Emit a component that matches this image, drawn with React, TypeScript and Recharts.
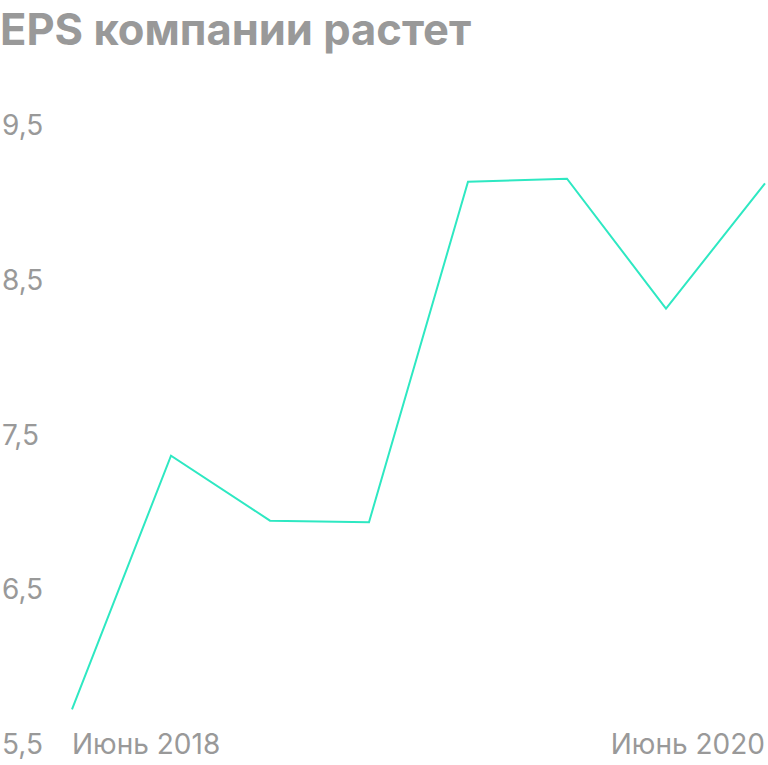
import { LineChart, Line, XAxis, YAxis } from 'recharts'

const months = [
  'Июнь 2018',
  'Сент. 2018',
  'Дек. 2018',
  'Март 2019',
  'Июнь 2019',
  'Сент. 2019',
  'Дек. 2019',
  'Июнь 2020',
]
const eps = [5.72, 7.36, 6.94, 6.93, 9.13, 9.15, 8.31, 9.12]
const yTicks = [5.5, 6.5, 7.5, 8.5, 9.5]
const xTicks = [months[0], months[months.length - 1]]

const data = months.map((m, i) => ({ month: m, eps: eps[i] }))

const GRAY = '#999999'
const FONT = 'Inter, Roboto, sans-serif'

// подписи по оси Y прижаты к левому краю
function YTick(props: any) {
  const { y, payload } = props
  return (
    <text x={2} y={y + 10.5} fill={GRAY} fontSize={28} fontFamily={FONT} textAnchor="start">
      {String(payload.value).replace('.', ',')}
    </text>
  )
}

// первая подпись от точки вправо, последняя — влево
function XTick(props: any) {
  const { x, y, payload } = props
  const anchor = payload.value === xTicks[0] ? 'start' : 'end'
  return (
    <text x={x} y={y + 10.5} fill={GRAY} fontSize={28} fontFamily={FONT} textAnchor={anchor}>
      {payload.value}
    </text>
  )
}

export default function App() {
  return (
    <div style={{ position: 'absolute', left: 0, top: 0, width: 768, height: 765, background: '#fff' }}>
      <div
        style={{
          position: 'absolute',
          left: 0,
          top: 8,
          fontFamily: FONT,
          fontWeight: 700,
          fontSize: 43.5,
          lineHeight: 1,
          color: GRAY,
          whiteSpace: 'nowrap',
        }}
      >
        EPS компании растет
      </div>
      <LineChart width={768} height={765} data={data} margin={{ top: 124.5, right: 3, bottom: 0, left: 0 }}>
        <XAxis
          dataKey="month"
          ticks={xTicks}
          interval={0}
          axisLine={false}
          tickLine={false}
          tickSize={0}
          tickMargin={0}
          height={21.5}
          tick={<XTick />}
        />
        <YAxis
          domain={[5.5, 9.5]}
          ticks={yTicks}
          interval={0}
          axisLine={false}
          tickLine={false}
          width={72}
          tick={<YTick />}
        />
        <Line
          type="linear"
          dataKey="eps"
          stroke="#2ee8c2"
          strokeWidth={2}
          dot={false}
          isAnimationActive={false}
        />
      </LineChart>
    </div>
  )
}
